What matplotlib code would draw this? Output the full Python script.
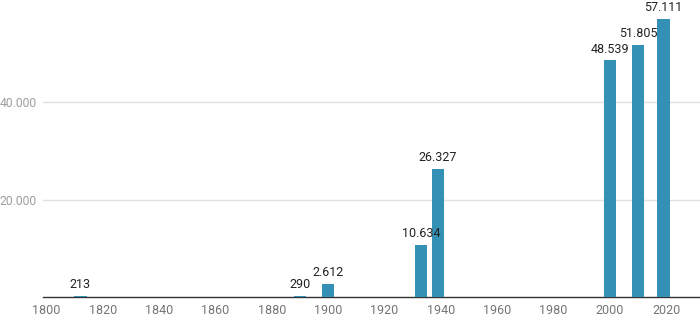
import matplotlib.pyplot as plt
from matplotlib.ticker import FuncFormatter

# years and population values
years = [1812, 1890, 1900, 1933, 1939, 2000, 2010, 2019]
population = [213, 290, 2612, 10634, 26327, 48539, 51805, 57111]
x_ticks = [1800, 1820, 1840, 1860, 1880, 1900, 1920, 1940, 1960, 1980, 2000, 2020]
y_ticks = [20000, 40000]

plt.rcParams['font.family'] = ['Roboto', 'DejaVu Sans']

fig = plt.figure(figsize=(7, 3.25), dpi=100)
ax = fig.add_axes([43 / 700, 28 / 325, 657 / 700, 287 / 325])

bars = ax.bar(years, population, width=4.5, color='#3490b4', zorder=3)

# value labels above the bars, German thousands separator
for yr, val in zip(years, population):
    ax.annotate(f"{val:,}".replace(',', '.'), (yr, val), xytext=(0, 3.5),
                textcoords='offset points', ha='center', va='bottom',
                fontsize=9, color='#222222', annotation_clip=False)

ax.set_xlim(1798.8, 2032)
ax.set_ylim(0, 58900)
ax.set_xticks(x_ticks)
ax.set_yticks(y_ticks)
ax.yaxis.set_major_formatter(FuncFormatter(lambda v, p: f"{int(v):,}".replace(',', '.')))

ax.grid(axis='y', color='#e0e0e0', linewidth=1, zorder=0)
ax.tick_params(axis='both', length=0, labelsize=9, colors='#757575')
ax.tick_params(axis='x', pad=5)
ax.tick_params(axis='y', pad=4.5, colors='#9e9e9e', labelsize=8.7)

for side in ['top', 'right', 'left']:
    ax.spines[side].set_visible(False)
ax.spines['bottom'].set_color('#333333')
ax.spines['bottom'].set_linewidth(1)
ax.spines['bottom'].set_zorder(2)

fig.savefig('out.png', dpi=100)
